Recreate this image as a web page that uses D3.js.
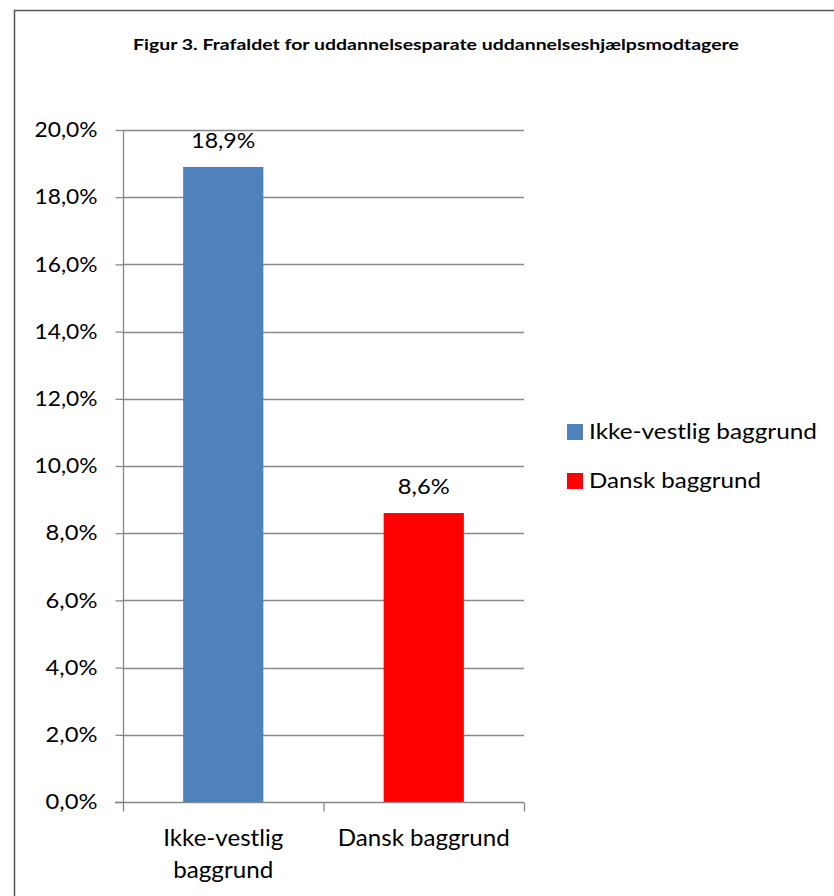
<!DOCTYPE html>
<html>
<head>
<meta charset="utf-8">
<script src="https://cdn.jsdelivr.net/npm/d3@7"></script>
<style>
  html, body { margin: 0; padding: 0; background: #fff; }
  svg text { font-family: Lato, "Liberation Sans", sans-serif; fill: #000; }
</style>
</head>
<body>
<svg id="chart" width="834" height="896"></svg>
<script>
const title = "Figur 3. Frafaldet for uddannelsesparate uddannelseshjælpsmodtagere";
const categories = ["Ikke-vestlig baggrund", "Dansk baggrund"];
const categoryLines = [["Ikke-vestlig", "baggrund"], ["Dansk baggrund"]];
const values = [18.9, 8.6];
const valueLabels = ["18,9%", "8,6%"];
const colors = ["#4F81BD", "#FF0000"];
const yTicks = [0, 2, 4, 6, 8, 10, 12, 14, 16, 18, 20];

(function () {
const svg = d3.select("#chart");

// outer border (right and bottom edges fall outside the view)
svg.append("rect").attr("x", 14.5).attr("y", 10.5).attr("width", 840).attr("height", 900)
  .attr("fill", "none").attr("stroke", "#555").attr("stroke-width", 1.5);

svg.append("text").attr("x", 436).attr("y", 50).attr("text-anchor", "middle")
  .attr("font-size", 15.5).attr("font-weight", "bold")
  .attr("textLength", 606).attr("lengthAdjust", "spacingAndGlyphs")
  .text(title);

const pLeft = 123, pRight = 524, pTop = 130, pBottom = 802;
const x = d3.scaleBand().domain(categories).range([pLeft, pRight]).padding(0);
const y = d3.scaleLinear().domain([0, 20]).range([pBottom, pTop]);

// gridlines
svg.append("g").selectAll("line").data(yTicks.filter(d => d > 0)).join("line")
  .attr("x1", pLeft).attr("x2", pRight)
  .attr("y1", d => Math.round(y(d)) + 0.5).attr("y2", d => Math.round(y(d)) + 0.5)
  .attr("stroke", "#888").attr("stroke-width", 1.3);

// bars
svg.append("g").selectAll("rect").data(categories).join("rect")
  .attr("x", d => x(d) + x.bandwidth() * 0.3)
  .attr("width", x.bandwidth() * 0.4)
  .attr("y", (d, i) => y(values[i]))
  .attr("height", (d, i) => pBottom - y(values[i]))
  .attr("fill", (d, i) => colors[i]);

// y axis
const yAxis = d3.axisLeft(y).tickValues(yTicks).tickSize(8).tickPadding(18)
  .tickFormat(d => d.toFixed(1).replace(".", ",") + "%");
const gy = svg.append("g").attr("transform", `translate(${pLeft + 0.5},0)`).call(yAxis);
gy.selectAll(".domain").attr("stroke", "#888").attr("stroke-width", 1.3).attr("d", `M0,${pTop}V${pBottom}`);
gy.selectAll(".tick line").attr("stroke", "#888").attr("stroke-width", 1.3);
gy.selectAll(".tick text").attr("font-size", 21).attr("font-family", "Lato").attr("fill", "#000")
  .attr("textLength", 63).attr("lengthAdjust", "spacingAndGlyphs");
gy.selectAll(".tick text").filter(d => d < 10).attr("textLength", 52);

// x axis
const gx = svg.append("g").attr("transform", `translate(0,${pBottom + 0.5})`);
gx.append("line").attr("x1", pLeft - 8).attr("x2", pRight).attr("y1", 0).attr("y2", 0)
  .attr("stroke", "#888").attr("stroke-width", 1.3);
const edges = [pLeft, ...categories.map(c => x(c) + x.bandwidth())];
gx.selectAll("line.tk").data(edges).join("line").attr("class", "tk")
  .attr("x1", d => d + 0.5).attr("x2", d => d + 0.5).attr("y1", 0).attr("y2", 9)
  .attr("stroke", "#888").attr("stroke-width", 1.3);
const lineWidths = [[120, 100], [172]];
categories.forEach((c, i) => {
  categoryLines[i].forEach((ln, j) => {
    svg.append("text").attr("text-anchor", "middle").attr("font-size", 23)
      .attr("x", x(c) + x.bandwidth() / 2).attr("y", 846 + j * 32)
      .attr("textLength", lineWidths[i][j]).attr("lengthAdjust", "spacingAndGlyphs")
      .text(ln);
  });
});

// value labels
svg.append("g").selectAll("text").data(categories).join("text")
  .attr("x", d => x(d) + x.bandwidth() / 2)
  .attr("y", (d, i) => y(values[i]) - 19)
  .attr("text-anchor", "middle").attr("font-size", 21)
  .attr("textLength", (d, i) => i === 0 ? 64 : 52).attr("lengthAdjust", "spacingAndGlyphs")
  .text((d, i) => valueLabels[i]);

// legend
const legendWidths = [228, 172];
const lg = svg.append("g");
categories.forEach((c, i) => {
  lg.append("rect").attr("x", 567).attr("y", 424 + i * 49).attr("width", 16).attr("height", 16)
    .attr("fill", colors[i]);
  lg.append("text").attr("x", 589).attr("y", 439 + i * 49).attr("font-size", 21)
    .attr("textLength", legendWidths[i]).attr("lengthAdjust", "spacingAndGlyphs").text(c);
});
})();
</script>
</body>
</html>
